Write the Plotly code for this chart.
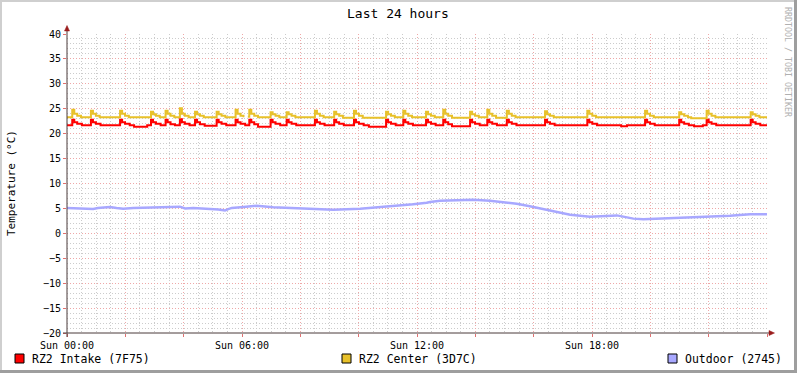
import plotly.graph_objects as go

# ---------------- data (hours since Sun 00:00, temperature °C) ----------------
intake_t = [0.00, 0.18, 0.25, 0.35, 0.51, 0.82, 0.89, 0.99, 1.15, 1.82, 1.89, 1.99, 2.15, 2.30, 2.75,
            2.88, 2.95, 3.05, 3.21, 3.38, 3.45, 3.55, 3.70, 3.87, 3.94, 4.04, 4.20, 4.39, 4.46, 4.56, 4.72,
            5.13, 5.20, 5.30, 5.46, 5.78, 5.85, 5.95, 6.11, 6.25, 6.32, 6.42, 6.55, 6.98, 7.05, 7.15, 7.31,
            7.53, 7.60, 7.70, 7.86, 8.50, 8.57, 8.67, 8.83, 9.16, 9.23, 9.33, 9.49, 9.84, 9.91, 10.01, 10.17,
            10.35, 10.94, 11.01, 11.11, 11.27, 11.53, 11.60, 11.70, 11.86, 12.31, 12.38, 12.48, 12.64,
            12.90, 12.97, 13.07, 13.20, 13.82, 13.89, 13.99, 14.15, 14.41, 14.48, 14.58, 14.74,
            15.08, 15.15, 15.25, 15.41, 16.39, 16.46, 16.56, 16.72, 17.84, 17.91, 18.01, 18.17,
            19.00, 19.20, 19.82, 19.89, 19.99, 20.15, 20.99, 21.06, 21.16, 21.32, 21.50, 21.80,
            21.93, 22.00, 22.10, 22.26, 23.44, 23.51, 23.61, 23.77, 24.00]
intake_v = [21.7, 22.8, 22.3, 22.0, 21.7, 22.8, 22.3, 22.0, 21.7, 22.8, 22.3, 22.0, 21.7, 21.4, 21.7,
            22.8, 22.3, 22.0, 21.7, 22.8, 22.3, 21.9, 21.7, 22.9, 22.3, 22.0, 21.7, 22.8, 22.3, 21.9, 21.6,
            22.8, 22.3, 22.0, 21.7, 22.8, 22.3, 22.0, 21.7, 22.8, 22.3, 21.9, 21.4, 22.8, 22.3, 22.0, 21.7,
            22.8, 22.3, 22.0, 21.7, 22.8, 22.3, 22.0, 21.7, 22.8, 22.3, 22.0, 21.7, 22.8, 22.3, 22.0, 21.7,
            21.4, 22.8, 22.3, 22.0, 21.7, 22.8, 22.3, 22.0, 21.7, 22.8, 22.3, 22.0, 21.7,
            22.8, 22.3, 21.9, 21.5, 22.8, 22.3, 22.0, 21.7, 22.8, 22.3, 22.0, 21.7,
            22.8, 22.3, 22.0, 21.7, 22.8, 22.3, 22.0, 21.7, 22.8, 22.3, 22.0, 21.7,
            21.5, 21.7, 22.8, 22.3, 22.0, 21.7, 22.8, 22.3, 22.0, 21.7, 21.5, 21.7,
            22.8, 22.3, 22.0, 21.7, 22.8, 22.3, 22.0, 21.7, 21.7]

center_t = [0.00, 0.18, 0.25, 0.35, 0.48, 0.82, 0.89, 0.99, 1.12, 1.82, 1.89, 1.99, 2.12,
            2.88, 2.95, 3.05, 3.18, 3.38, 3.45, 3.55, 3.68, 3.87, 3.94, 4.04, 4.17, 4.39, 4.46, 4.56, 4.69,
            5.13, 5.20, 5.30, 5.43, 5.78, 5.85, 5.95, 6.05, 6.12, 6.20, 6.25, 6.32, 6.42, 6.55,
            6.98, 7.05, 7.15, 7.28, 7.53, 7.60, 7.70, 7.83, 8.50, 8.57, 8.67, 8.80, 9.16, 9.23, 9.33, 9.46,
            9.84, 9.91, 10.01, 10.14, 10.94, 11.01, 11.11, 11.24, 11.53, 11.60, 11.70, 11.83,
            12.31, 12.38, 12.48, 12.61, 12.90, 12.97, 13.07, 13.20, 13.82, 13.89, 13.99, 14.12,
            14.41, 14.48, 14.58, 14.71, 15.08, 15.15, 15.25, 15.38, 16.39, 16.46, 16.56, 16.69,
            17.84, 17.91, 18.01, 18.14, 19.82, 19.89, 19.99, 20.12, 20.99, 21.06, 21.16, 21.29, 21.40,
            21.93, 22.00, 22.10, 22.23, 23.44, 23.51, 23.61, 23.74, 24.00]
center_v = [23.3, 24.8, 24.0, 23.6, 23.3, 24.6, 24.0, 23.6, 23.3, 24.6, 24.0, 23.6, 23.3,
            24.4, 23.9, 23.6, 23.3, 24.6, 24.0, 23.6, 23.3, 25.1, 24.0, 23.6, 23.3, 24.4, 23.9, 23.6, 23.3,
            24.4, 23.9, 23.6, 23.3, 24.8, 24.0, 23.6, 23.3, None, 23.4, 24.8, 24.0, 23.6, 23.3,
            24.3, 23.9, 23.6, 23.3, 24.3, 23.9, 23.6, 23.3, 24.6, 24.0, 23.6, 23.3, 24.4, 23.9, 23.6, 23.2,
            24.6, 24.0, 23.6, 23.2, 24.4, 23.9, 23.6, 23.3, 24.6, 24.0, 23.6, 23.3,
            24.4, 23.9, 23.6, 23.3, 24.8, 24.0, 23.6, 23.2, 24.4, 23.9, 23.6, 23.3,
            24.8, 24.0, 23.6, 23.2, 24.6, 24.0, 23.6, 23.3, 24.5, 23.9, 23.6, 23.3,
            24.6, 24.0, 23.6, 23.3, 24.6, 24.0, 23.6, 23.3, 24.3, 23.9, 23.6, 23.3, 23.1,
            24.6, 24.0, 23.6, 23.3, 24.3, 23.9, 23.6, 23.3, 23.3]

outdoor_t = [0.00, 0.90, 1.06, 1.47, 1.70, 1.93, 2.27, 3.19, 3.87, 4.05, 4.33, 5.19, 5.42, 5.53, 5.65,
             6.05, 6.50, 7.07, 8.22, 9.13, 10.05, 10.50, 10.73, 11.19, 11.87, 12.33, 12.45, 12.79,
             13.93, 14.50, 14.96, 15.42, 15.87, 16.22, 16.79, 17.25, 17.93, 18.85, 19.07, 19.42,
             19.76, 20.67, 21.93, 22.73, 23.42, 24.00]
outdoor_v = [5.1, 4.9, 5.1, 5.3, 5.1, 4.95, 5.1, 5.2, 5.35, 5.0, 5.1, 4.8, 4.6, 4.85, 5.1,
             5.3, 5.55, 5.25, 5.0, 4.75, 4.95, 5.15, 5.4, 5.6, 5.85, 6.15, 6.3, 6.55,
             6.75, 6.55, 6.3, 5.95, 5.45, 5.0, 4.35, 3.75, 3.35, 3.6, 3.35, 2.95,
             2.85, 3.05, 3.35, 3.55, 3.85, 3.85]

series_names = ["RZ2 Intake (7F75)", "RZ2 Center (3D7C)", "Outdoor (2745)"]
series_colors = ["#FF0000", "#E8C12A", "#A8A8FF"]

x_tickvals = [0, 2, 4, 6, 8, 10, 12, 14, 16, 18, 20, 22, 24]
x_ticktext = ["Sun 00:00", "", "", "Sun 06:00", "", "", "Sun 12:00", "", "", "Sun 18:00", "", "", ""]
y_tickvals = [-20, -15, -10, -5, 0, 5, 10, 15, 20, 25, 30, 35, 40]

# ---------------- layout geometry (pixels) ----------------
W, H = 797, 373
L, R, T, B = 67, 30, 34, 40
PW, PH = W - L - R, H - T - B


def px(xp):
    return (xp - L) / PW


def py(yp):
    return (H - B - yp) / PH


FONT = "DejaVu Sans Mono"
MGRID = "#EFA8A8"
GRID = "#CCCCCC"

fig = go.Figure()
fig.add_trace(go.Scatter(x=intake_t, y=intake_v, mode="lines", line=dict(color=series_colors[0], width=2, shape="hv"),
                         name=series_names[0], connectgaps=False))
fig.add_trace(go.Scatter(x=center_t, y=center_v, mode="lines", line=dict(color=series_colors[1], width=2, shape="hv"),
                         name=series_names[1], connectgaps=False))
fig.add_trace(go.Scatter(x=outdoor_t, y=outdoor_v, mode="lines", line=dict(color=series_colors[2], width=2.5),
                         name=series_names[2]))

shapes = []
# outer 3D border
shapes.append(dict(type="line", xref="paper", yref="paper", x0=px(0), x1=px(W), y0=py(1), y1=py(1),
                   line=dict(color="#CFCFCF", width=2)))
shapes.append(dict(type="line", xref="paper", yref="paper", x0=px(1), x1=px(1), y0=py(0), y1=py(H),
                   line=dict(color="#CFCFCF", width=2)))
shapes.append(dict(type="line", xref="paper", yref="paper", x0=px(0), x1=px(W), y0=py(H - 1.5), y1=py(H - 1.5),
                   line=dict(color="#9E9E9E", width=3)))
shapes.append(dict(type="line", xref="paper", yref="paper", x0=px(W - 1.5), x1=px(W - 1.5), y0=py(0), y1=py(H),
                   line=dict(color="#9E9E9E", width=3)))
# axes with arrows
AXIS = "#4A3B3B"
ARROW = "#9A1C1C"
shapes.append(dict(type="line", xref="paper", yref="paper", x0=px(63), x1=px(770), y0=0, y1=0,
                   line=dict(color=AXIS, width=1), layer="above"))
shapes.append(dict(type="line", xref="paper", yref="paper", x0=0, x1=0, y0=py(337), y1=py(30),
                   line=dict(color=AXIS, width=1), layer="above"))
shapes.append(dict(type="path", xref="paper", yref="paper",
                   path=f"M {px(769)} {py(330.5)} L {px(774.5)} {py(333)} L {px(769)} {py(335.5)} Z",
                   fillcolor=ARROW, line=dict(color=ARROW, width=0.5), layer="above"))
shapes.append(dict(type="path", xref="paper", yref="paper",
                   path=f"M {px(64.5)} {py(31)} L {px(67)} {py(25.5)} L {px(69.5)} {py(31)} Z",
                   fillcolor=ARROW, line=dict(color=ARROW, width=0.5), layer="above"))
# legend squares
legend_sq_x = [15, 342, 668]
legend_tx_x = [30, 357, 683]
annotations = []
for i in range(3):
    shapes.append(dict(type="rect", xref="paper", yref="paper", x0=px(legend_sq_x[i]), x1=px(legend_sq_x[i] + 9),
                       y0=py(354), y1=py(363), fillcolor=series_colors[i], line=dict(color="#000000", width=1)))
    annotations.append(dict(xref="paper", yref="paper", x=px(legend_tx_x[i]), y=py(358.5), xanchor="left",
                            yanchor="middle", text=series_names[i], showarrow=False,
                            font=dict(family=FONT, size=11.5, color="#000000")))

annotations.append(dict(xref="paper", yref="paper", x=px(W / 2 - 1), y=py(13), xanchor="center", yanchor="middle",
                        text="Last 24 hours", showarrow=False, font=dict(family=FONT, size=13, color="#000000")))
annotations.append(dict(xref="paper", yref="paper", x=px(11), y=py(183), xanchor="center", yanchor="middle",
                        text="Temperature (°C)", textangle=-90, showarrow=False,
                        font=dict(family=FONT, size=11, color="#000000")))
annotations.append(dict(xref="paper", yref="paper", x=px(788), y=py(5), xanchor="center", yanchor="top",
                        text="RRDTOOL / TOBI OETIKER", textangle=90, showarrow=False,
                        font=dict(family=FONT, size=8.3, color="#B0B0B0")))

fig.update_layout(
    width=W, height=H,
    margin=dict(l=L, r=R, t=T, b=B, pad=0),
    paper_bgcolor="#FFFFFF", plot_bgcolor="#FFFFFF",
    showlegend=False,
    shapes=shapes, annotations=annotations,
    font=dict(family=FONT, size=10, color="#000000"),
)
fig.update_xaxes(
    range=[0, 24], tickmode="array", tickvals=x_tickvals, ticktext=x_ticktext,
    showgrid=True, gridcolor=MGRID, griddash="1px,2px", gridwidth=1,
    ticks="outside", ticklen=3, tickcolor="#E07070", showline=False, zeroline=False,
    tickfont=dict(family=FONT, size=10, color="#000000"),
    minor=dict(tickmode="linear", tick0=0, dtick=0.5, showgrid=True, gridcolor=GRID, griddash="1px,2px",
               ticks="", gridwidth=1),
)
fig.update_yaxes(
    range=[-20, 40], tickmode="array", tickvals=y_tickvals,
    showgrid=True, gridcolor=MGRID, griddash="1px,2px", gridwidth=1,
    ticks="outside", ticklen=3, tickcolor="#E07070", showline=False, zeroline=False,
    tickfont=dict(family=FONT, size=10, color="#000000"),
    minor=dict(tickmode="linear", tick0=0, dtick=1, showgrid=True, gridcolor=GRID, griddash="1px,2px",
               ticks="", gridwidth=1),
)

fig.write_html("out.html", config={"displayModeBar": False},
               post_script="document.body.style.margin='0';document.body.style.overflow='hidden';")
